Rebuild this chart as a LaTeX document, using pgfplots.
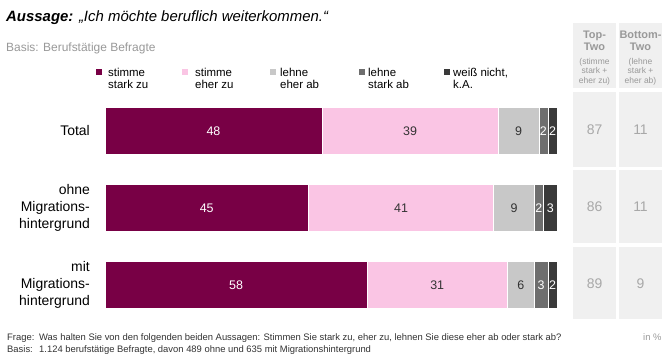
\documentclass[border=0pt]{standalone}
\usepackage{pgfplots}
\pgfplotsset{compat=1.18}
\usepackage{fontspec}
\setmainfont{Liberation Sans}
\definecolor{c1}{HTML}{780045}
\definecolor{c2}{HTML}{FAC5E4}
\definecolor{c3}{HTML}{C8C8C8}
\definecolor{c4}{HTML}{6E6E6E}
\definecolor{c5}{HTML}{3A3A3A}
\definecolor{boxg}{HTML}{F0F0F0}
\definecolor{txtg}{HTML}{A8A8A8}
\definecolor{subg}{HTML}{999999}
\definecolor{foot}{HTML}{333333}
\begin{document}
\begin{tikzpicture}[x=1bp,y=1bp]
\useasboundingbox[fill=white] (0,0) rectangle (668,359);
% title
\node[anchor=base west,inner sep=0] at (6,359-21) {\fontsize{15}{16}\selectfont\bfseries\itshape Aussage: \mdseries „Ich möchte beruflich weiterkommen.“};
\node[anchor=base west,inner sep=0,text=subg] at (6,359-51) {\fontsize{12}{14}\selectfont Basis: Berufstätige Befragte};
% legend
\foreach \xs/\xt/\col/\la/\lb in {99/108/c1/stimme/stark zu, 185/195/c2/stimme/eher zu, 273/280/c3/lehne/eher ab, 362/368/c4/lehne/stark ab, 447/453/c5/{weiß nicht,}/k.A.}{
  \fill[\col] (\xs-3,359-75) rectangle (\xs+3,359-69);
  \node[anchor=base west,inner sep=0] at (\xt,359-76) {\fontsize{11.5}{13}\selectfont \la};
  \node[anchor=base west,inner sep=0] at (\xt,359-88) {\fontsize{11.5}{13}\selectfont \lb};
}
% right boxes
\fill[boxg] (573,359-23) rectangle (616,359-88);
\fill[boxg] (619,359-23) rectangle (662,359-88);
\foreach \ya/\yb in {92/167,170/243,247/319}{
  \fill[boxg] (573,359-\ya) rectangle (616,359-\yb);
  \fill[boxg] (619,359-\ya) rectangle (662,359-\yb);
}
\begin{scope}[every node/.style={anchor=base,inner sep=0,text=subg}]
\node at (594.5,359-38) {\fontsize{11}{12}\selectfont\bfseries Top-};
\node at (594.5,359-50) {\fontsize{11}{12}\selectfont\bfseries Two};
\node at (594.5,359-64) {\fontsize{8.5}{9}\selectfont (stimme};
\node at (594.5,359-73) {\fontsize{8.5}{9}\selectfont stark +};
\node at (594.5,359-83) {\fontsize{8.5}{9}\selectfont eher zu)};
\node at (640.5,359-38) {\fontsize{11}{12}\selectfont\bfseries Bottom-};
\node at (640.5,359-50) {\fontsize{11}{12}\selectfont\bfseries Two};
\node at (640.5,359-64) {\fontsize{8.5}{9}\selectfont (lehne};
\node at (640.5,359-73) {\fontsize{8.5}{9}\selectfont stark +};
\node at (640.5,359-83) {\fontsize{8.5}{9}\selectfont eher ab)};
\end{scope}
\begin{scope}[every node/.style={anchor=center,inner sep=0,text=txtg,font=\fontsize{14}{16}\selectfont}]
\node at (594.5,359-130) {87}; \node at (640.5,359-130) {11};
\node at (594.5,359-207) {86}; \node at (640.5,359-207) {11};
\node at (594.5,359-284) {89}; \node at (640.5,359-284) {9};
\end{scope}
% footer
\node[anchor=base west,inner sep=0,text=foot] at (7,359-340) {\fontsize{9.45}{10}\selectfont Frage:};
\node[anchor=base west,inner sep=0,text=foot] at (39,359-340) {\fontsize{9.45}{10}\selectfont Was halten Sie von den folgenden beiden Aussagen: Stimmen Sie stark zu, eher zu, lehnen Sie diese eher ab oder stark ab?};
\node[anchor=base west,inner sep=0,text=foot] at (7,359-352) {\fontsize{9.45}{10}\selectfont Basis:};
\node[anchor=base west,inner sep=0,text=foot] at (39,359-352) {\fontsize{9.45}{10}\selectfont 1.124 berufstätige Befragte, davon 489 ohne und 635 mit Migrationshintergrund};
\node[anchor=base west,inner sep=0,text=subg] at (643,359-340) {\fontsize{9.45}{10}\selectfont in \%};
\begin{axis}[
  at={(105bp,35.5bp)}, anchor=south west,
  scale only axis, width=452bp, height=231bp,
  xmin=0, xmax=100, ymin=-0.5, ymax=2.5, y dir=reverse,
  xbar stacked, bar width=0.61,
  axis line style={draw=none}, xtick=\empty, ytick=\empty,
  clip=false,
  /pgf/number format/assume math mode=true,
  point meta=rawx,
  nodes near coords={\pgfmathprintnumber{\pgfplotspointmeta}},
  every node near coord/.style={anchor=center, inner sep=0, font=\fontsize{12.5}{14}\selectfont},
]
\addplot+[fill=c1, draw=white, line width=0.6pt, every node near coord/.append style={text=white}] coordinates {(48,0) (45,1) (58,2)};
\addplot+[fill=c2, draw=white, line width=0.6pt, every node near coord/.append style={text=foot}] coordinates {(39,0) (41,1) (31,2)};
\addplot+[fill=c3, draw=white, line width=0.6pt, every node near coord/.append style={text=foot}] coordinates {(9,0) (9,1) (6,2)};
\addplot+[fill=c4, draw=white, line width=0.6pt, every node near coord/.append style={text=white}] coordinates {(2,0) (2,1) (3,2)};
\addplot+[fill=c5, draw=white, line width=0.6pt, every node near coord/.append style={text=white}] coordinates {(2,0) (3,1) (2,2)};
\node[anchor=east,align=right,inner sep=0,font=\fontsize{14}{17}\selectfont] at ([xshift=-15bp]axis cs:0,0) {Total};
\node[anchor=east,align=right,inner sep=0,font=\fontsize{14}{17}\selectfont] at ([xshift=-15bp]axis cs:0,1) {ohne\\Migrations-\\hintergrund};
\node[anchor=east,align=right,inner sep=0,font=\fontsize{14}{17}\selectfont] at ([xshift=-15bp]axis cs:0,2) {mit\\Migrations-\\hintergrund};
\end{axis}
\end{tikzpicture}
\end{document}
